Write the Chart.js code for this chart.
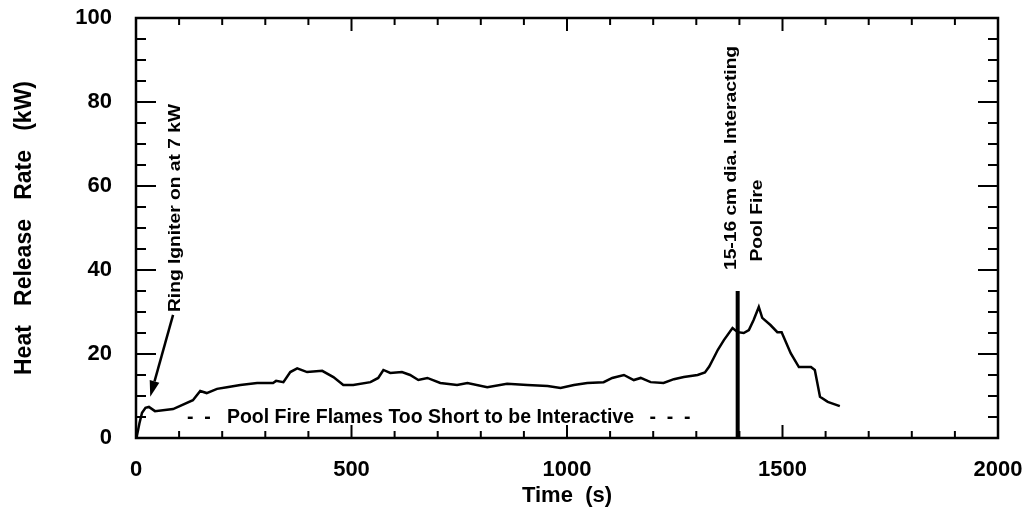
<!DOCTYPE html>
<html><head><meta charset="utf-8">
<script src="https://cdn.jsdelivr.net/npm/chart.js@4.4.0/dist/chart.umd.min.js"></script>
<style>html,body{margin:0;padding:0;background:#fff}#wrap{width:1031px;height:510px}</style>
</head><body><div id="wrap"><canvas id="c" width="1031" height="510"></canvas></div>
<script>
// ---- data ----
const timeS = [0, 2, 8, 14, 22, 30, 44, 86, 132, 149, 164, 188, 211, 242, 281, 318, 325, 342, 358, 374, 397, 432, 458, 481, 504, 544, 562, 574, 590, 617, 636, 655, 676, 706, 745, 769, 815, 861, 908, 955, 985, 1016, 1047, 1085, 1105, 1132, 1155, 1171, 1194, 1224, 1248, 1271, 1303, 1320, 1330, 1340, 1350, 1364, 1384, 1396, 1410, 1422, 1433, 1445, 1453, 1472, 1488, 1498, 1519, 1538, 1566, 1575, 1587, 1605, 1633];
const hrrKW = [0, 0.5, 3.5, 6.0, 7.2, 7.4, 6.4, 6.9, 9.0, 11.2, 10.7, 11.7, 12.1, 12.6, 13.1, 13.1, 13.6, 13.3, 15.7, 16.6, 15.7, 16.0, 14.5, 12.6, 12.6, 13.3, 14.3, 16.2, 15.5, 15.7, 15.0, 13.8, 14.3, 13.1, 12.6, 13.1, 12.1, 12.9, 12.6, 12.4, 11.9, 12.6, 13.1, 13.3, 14.3, 15.0, 13.8, 14.3, 13.3, 13.1, 14.0, 14.5, 15.0, 15.6, 17.0, 19.0, 21.0, 23.3, 26.2, 25.2, 25.0, 25.7, 28.1, 31.2, 28.6, 26.9, 25.2, 25.2, 20.2, 16.9, 16.9, 16.2, 9.8, 8.6, 7.6];
const markerTime = [1396, 1396];
const markerKW = [0, 35];
const xTickLabels = [0, 500, 1000, 1500, 2000];
const yTickLabels = [0, 20, 40, 60, 80, 100];
const xMinorTicks = [0,100,200,300,400,500,600,700,800,900,1000,1100,1200,1300,1400,1500,1600,1700,1800,1900,2000];
const yMinorTicks = [0,5,10,15,20,25,30,35,40,45,50,55,60,65,70,75,80,85,90,95,100];
const arrowFrom = [86, 29.3];
const arrowTo = [33, 9.8];
const ringLabel = "Ring Igniter on at 7 kW";
const ringLabelAt = [93, 30];
const poolLabel1 = "15-16 cm dia. Interacting";
const poolLabel1At = [1383, 40];
const poolLabel2 = "Pool Fire";
const poolLabel2At = [1443, 42];
const flamesLabel = "Pool Fire Flames Too Short to be Interactive";
const flamesLabelAt = [211, 4.8];
const dashLeftAt = [146, 4.8];
const dashRightAt = [1239, 4.8];

const FONT = "'Liberation Sans', Arial, Helvetica, sans-serif";

const overlay = {
  id: 'overlay',
  afterDraw(chart) {
    const {ctx, chartArea: a} = chart;
    const x = chart.scales.x, y = chart.scales.y;
    const X = v => x.getPixelForValue(v), Y = v => y.getPixelForValue(v);
    ctx.save();
    ctx.strokeStyle = '#000'; ctx.fillStyle = '#000';
    const line = (x1, y1, x2, y2) => { ctx.beginPath(); ctx.moveTo(x1, y1); ctx.lineTo(x2, y2); ctx.stroke(); };
    ctx.lineWidth = 2;
    xMinorTicks.forEach(v => {
      const p = X(v); const L = xTickLabels.includes(v) ? 13 : 7;
      line(p, a.bottom, p, a.bottom - L); line(p, a.top, p, a.top + L);
    });
    yMinorTicks.forEach(v => {
      const p = Y(v); const L = yTickLabels.includes(v) ? 20 : 10;
      line(a.left, p, a.left + L, p); line(a.right, p, a.right - L, p);
    });
    ctx.lineWidth = 2.5;
    ctx.strokeRect(a.left, a.top, a.right - a.left, a.bottom - a.top);

    // arrow
    const x1 = X(arrowFrom[0]), y1 = Y(arrowFrom[1]), x2 = X(arrowTo[0]), y2 = Y(arrowTo[1]);
    ctx.lineWidth = 2.5;
    const ang = Math.atan2(y2 - y1, x2 - x1);
    const hl = 16, hw = 5;
    const bx = x2 - hl * Math.cos(ang), by = y2 - hl * Math.sin(ang);
    line(x1, y1, bx, by);
    ctx.beginPath();
    ctx.moveTo(x2, y2);
    ctx.lineTo(bx + hw * Math.sin(ang), by - hw * Math.cos(ang));
    ctx.lineTo(bx - hw * Math.sin(ang), by + hw * Math.cos(ang));
    ctx.closePath(); ctx.fill();

    // rotated labels (slightly stretched along the text direction, like the scan)
    const rot = (txt, at, size) => {
      ctx.save();
      ctx.translate(X(at[0]), Y(at[1]));
      ctx.rotate(-Math.PI / 2);
      ctx.scale(1.2, 1);
      ctx.font = 'bold ' + size + 'px ' + FONT;
      ctx.textAlign = 'left'; ctx.textBaseline = 'middle';
      ctx.fillText(txt, 0, 0);
      ctx.restore();
    };
    rot(ringLabel, ringLabelAt, 16);
    rot(poolLabel1, poolLabel1At, 16);
    rot(poolLabel2, poolLabel2At, 16);

    // horizontal label
    ctx.font = 'bold 19.5px ' + FONT;
    ctx.textBaseline = 'middle';
    ctx.textAlign = 'left';
    ctx.fillText(flamesLabel, X(flamesLabelAt[0]), Y(flamesLabelAt[1]));
    ctx.textAlign = 'center';
    ctx.fillText('-  -', X(dashLeftAt[0]), Y(dashLeftAt[1]));
    ctx.fillText('-  -  -', X(dashRightAt[0]), Y(dashRightAt[1]));
    ctx.restore();
  }
};

const noPad = s => { s.paddingTop = 0; s.paddingBottom = 0; s.paddingLeft = 0; s.paddingRight = 0; };

new Chart(document.getElementById('c'), {
  type: 'line',
  data: {
    datasets: [
      { data: timeS.map((t, i) => ({x: t, y: hrrKW[i]})), borderColor: '#000', borderWidth: 2.5, pointRadius: 0, tension: 0, fill: false },
      { data: markerTime.map((t, i) => ({x: t, y: markerKW[i]})), borderColor: '#000', borderWidth: 4, pointRadius: 0, fill: false, borderCapStyle: 'butt' }
    ]
  },
  options: {
    responsive: false,
    animation: false,
    events: [],
    layout: { padding: { top: 18, right: 33, left: 0, bottom: 0 } },
    plugins: { legend: { display: false }, tooltip: { enabled: false } },
    scales: {
      x: {
        type: 'linear', min: 0, max: 2000,
        afterBuildTicks: s => { s.ticks = xTickLabels.map(v => ({value: v})); },
        ticks: { color: '#000', font: { family: FONT, size: 22, weight: 'bold' }, padding: 19, maxRotation: 0, callback: v => String(v) },
        grid: { display: false, drawTicks: false },
        border: { display: false },
        title: { display: true, text: 'Time  (s)', color: '#000', font: { family: FONT, size: 22, weight: 'bold' }, padding: { top: 0, bottom: 1 } },
        afterFit: s => { s.height = 72; noPad(s); }
      },
      y: {
        min: 0, max: 100,
        afterBuildTicks: s => { s.ticks = yTickLabels.map(v => ({value: v})); },
        ticks: { color: '#000', font: { family: FONT, size: 22, weight: 'bold' }, padding: 24, callback: v => String(v) },
        grid: { display: false, drawTicks: false },
        border: { display: false },
        title: { display: true, text: 'Heat   Release   Rate   (kW)', color: '#000', font: { family: FONT, size: 23, weight: 'bold' }, padding: { top: 11, bottom: 0 } },
        afterFit: s => { s.width = 136; noPad(s); }
      }
    }
  },
  plugins: [overlay]
});
</script>
</body></html>
